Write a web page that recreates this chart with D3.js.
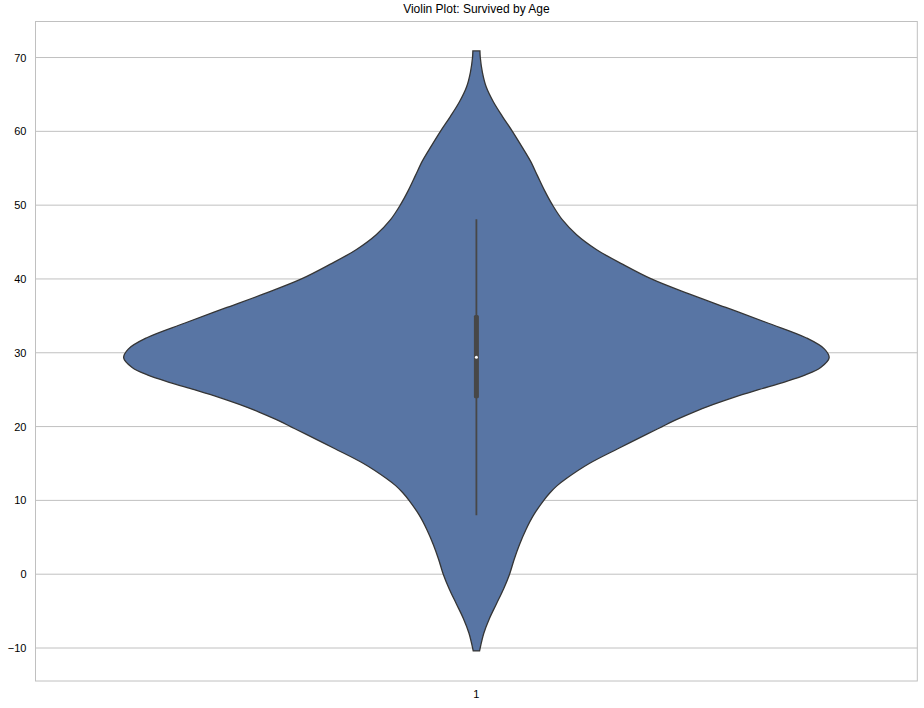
<!DOCTYPE html>
<html>
<head>
<meta charset="utf-8">
<script src="https://cdn.jsdelivr.net/npm/d3@7"></script>
<style>
  body { margin: 0; background: #fff; }
  svg text { font-family: "Liberation Sans", Arial, sans-serif; fill: #000; }
</style>
</head>
<body>
<svg width="924" height="708"></svg>
<script>
const width = 924;
const height = 708;
const margin = { top: 21.5, right: 6.7, bottom: 27, left: 35.5 };

// category + y ticks
const categories = ["1"];
const yTicks = [-10, 0, 10, 20, 30, 40, 50, 60, 70];

// violin outline: age grid and relative density (max = 1)
const ageGrid = [70.9, 70, 68, 66, 64, 62, 60, 58, 56, 54, 52, 50, 48, 46, 44, 42, 40,
    38, 36, 34, 32, 30.5, 29.3, 28, 27, 26, 25, 24, 23, 22, 21, 20, 19, 17, 15, 13, 12, 11, 10, 8, 6,
    4, 2, 0, -2, -4, -6, -8, -9.5, -10.4];
const density = [0.010, 0.011, 0.017, 0.028, 0.048, 0.074, 0.102, 0.128, 0.153, 0.173, 0.193, 0.216, 0.244, 0.284, 0.340, 0.414, 0.496,
    0.601, 0.715, 0.828, 0.936, 0.987, 1.0, 0.976, 0.933, 0.871, 0.800, 0.732, 0.672, 0.618, 0.570, 0.527, 0.485, 0.401, 0.320, 0.256, 0.229, 0.208, 0.191, 0.162, 0.140,
    0.122, 0.107, 0.094, 0.077, 0.057, 0.037, 0.021, 0.013, 0.009];

// inner box stats
const whiskerLow = 8;
const q1 = 23.85;
const median = 29.4;
const q3 = 35.1;
const whiskerHigh = 48.1;

const svg = d3.select("svg");

const x = d3.scaleBand()
    .domain(categories)
    .range([margin.left, width - margin.right])
    .padding(0);

const y = d3.scaleLinear()
    .domain([-14.47, 74.88])
    .range([height - margin.bottom, margin.top]);

const plotLeft = margin.left;
const plotRight = width - margin.right;

// grid
svg.append("g")
    .selectAll("line")
    .data(yTicks)
    .enter().append("line")
    .attr("x1", plotLeft)
    .attr("x2", plotRight)
    .attr("y1", d => y(d))
    .attr("y2", d => y(d))
    .attr("stroke", "#c0c0c0")
    .attr("stroke-width", 1);

// y axis labels (no tick marks)
const yAxis = d3.axisLeft(y).tickValues(yTicks).tickSize(0).tickPadding(9);
const gy = svg.append("g")
    .attr("transform", `translate(${plotLeft},0)`)
    .call(yAxis);
gy.select(".domain").remove();
gy.selectAll("text").style("font-size", "11px");

// x axis label
const xAxis = d3.axisBottom(x).tickSize(0).tickPadding(9);
const gx = svg.append("g")
    .attr("transform", `translate(0,${height - margin.bottom})`)
    .call(xAxis);
gx.select(".domain").remove();
gx.selectAll("text").style("font-size", "11px");

// violin
const cx = x("1") + x.bandwidth() / 2;
const w = d3.scaleLinear().domain([0, 1]).range([0, x.bandwidth() * 0.4]);
const pts = ageGrid.map((a, i) => ({ age: a, d: density[i] }));

const area = d3.area()
    .y(d => y(d.age))
    .x0(d => cx - w(d.d))
    .x1(d => cx + w(d.d))
    .curve(d3.curveCatmullRom);

svg.append("path")
    .datum(pts)
    .attr("d", area)
    .attr("fill", "#5875a4")
    .attr("stroke", "#353535")
    .attr("stroke-width", 1.3);

// whisker
svg.append("line")
    .attr("x1", cx).attr("x2", cx)
    .attr("y1", y(whiskerLow)).attr("y2", y(whiskerHigh))
    .attr("stroke", "#474747")
    .attr("stroke-width", 1.8);

// box
svg.append("rect")
    .attr("x", cx - 2.5)
    .attr("width", 5)
    .attr("y", y(q3))
    .attr("height", y(q1) - y(q3))
    .attr("rx", 1.5)
    .attr("fill", "#474747");

// median
svg.append("circle")
    .attr("cx", cx)
    .attr("cy", y(median))
    .attr("r", 1.5)
    .attr("fill", "#fff");

// border
svg.append("rect")
    .attr("x", plotLeft)
    .attr("y", margin.top)
    .attr("width", plotRight - plotLeft)
    .attr("height", height - margin.bottom - margin.top)
    .attr("fill", "none")
    .attr("stroke", "#c0c0c0")
    .attr("stroke-width", 1);

// title
svg.append("text")
    .attr("x", (plotLeft + plotRight) / 2)
    .attr("y", 13)
    .attr("text-anchor", "middle")
    .style("font-size", "12px")
    .text("Violin Plot: Survived by Age");
</script>
</body>
</html>
